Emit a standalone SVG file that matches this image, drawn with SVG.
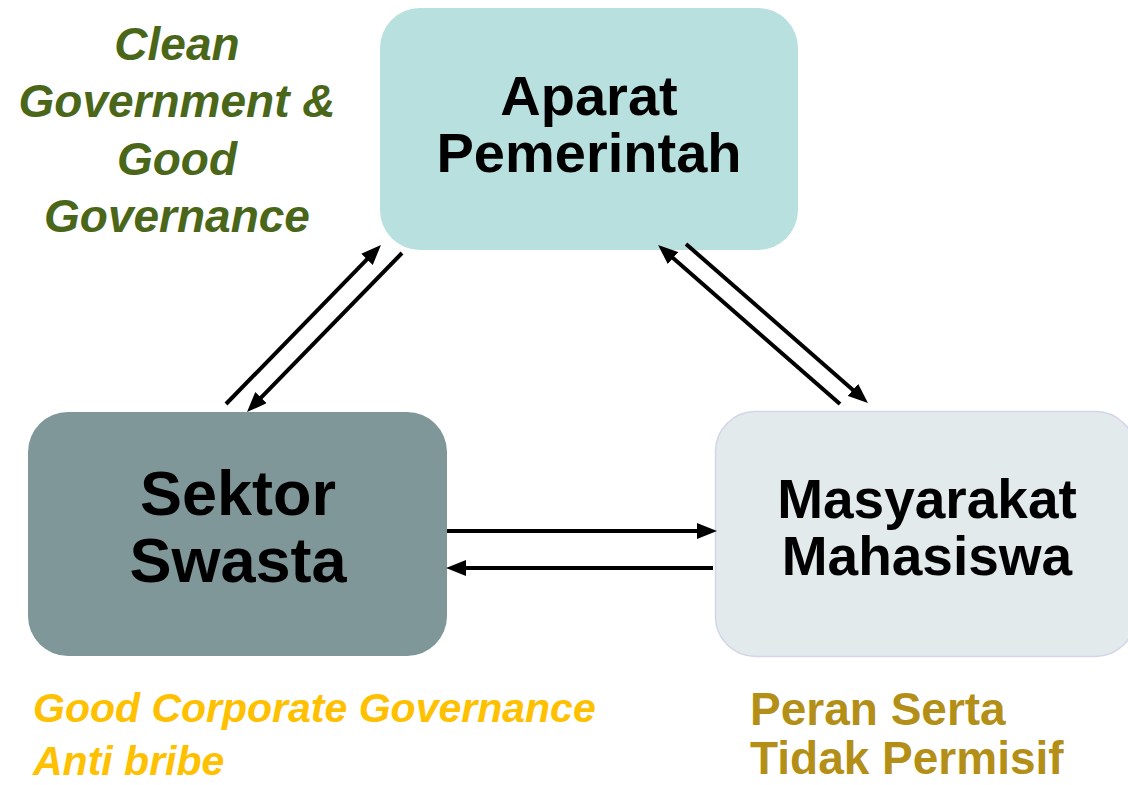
<svg xmlns="http://www.w3.org/2000/svg" width="1128" height="785" viewBox="0 0 1128 785">
<style>
.box-label{font-family:"Liberation Sans",Arial,sans-serif;font-weight:bold;fill:#000;text-anchor:middle}
.conn{stroke:#000;stroke-width:4;fill:none;marker-end:url(#ah)}
.green{font-family:"Liberation Sans",Arial,sans-serif;font-weight:bold;font-style:italic;fill:#4a6619;text-anchor:middle;font-size:46px}
.orange{font-family:"Liberation Sans",Arial,sans-serif;font-weight:bold;font-style:italic;fill:#ffc000;font-size:41px}
.gold{font-family:"Liberation Sans",Arial,sans-serif;font-weight:bold;fill:#b38f17;font-size:46px}
</style>
<defs>
<marker id="ah" viewBox="0 0 20 16" refX="2" refY="8" markerWidth="20" markerHeight="16" markerUnits="userSpaceOnUse" orient="auto">
<path d="M0,0 L20,8 L0,16 z" fill="#000"/>
</marker>
</defs>
<rect width="1128" height="785" fill="#fff"/>
<g id="aparat">
<rect x="380" y="8" width="418" height="242" rx="40" fill="#b8e0df"/>
<text class="box-label" x="589" y="115" font-size="56">Aparat</text>
<text class="box-label" x="589" y="172" font-size="56">Pemerintah</text>
</g>
<g id="sektor">
<rect x="28" y="412" width="419" height="244" rx="40" fill="#7f9799"/>
<text class="box-label" x="238" y="515" font-size="63">Sektor</text>
<text class="box-label" x="238" y="582" font-size="63">Swasta</text>
</g>
<g id="masyarakat">
<rect x="715.5" y="411.5" width="420" height="245" rx="40" fill="#e3eaec" stroke="#d4d4ea" stroke-width="1.5"/>
<text class="box-label" x="927" y="518" font-size="55">Masyarakat</text>
<text class="box-label" x="927" y="575" font-size="55">Mahasiswa</text>
</g>
<g id="connectors">
<line class="conn" x1="226" y1="404" x2="368.4" y2="257.9"/>
<line class="conn" x1="402" y1="253" x2="259.6" y2="399.1"/>
<line class="conn" x1="840" y1="404" x2="671.6" y2="256.8"/>
<line class="conn" x1="686" y1="244" x2="854.4" y2="391.2"/>
<line class="conn" x1="447" y1="531" x2="699" y2="531"/>
<line class="conn" x1="713" y1="568" x2="464" y2="568"/>
</g>
<g id="clean-government-label">
<text class="green" x="177" y="60">Clean</text>
<text class="green" x="177" y="117">Government &amp;</text>
<text class="green" x="177" y="175">Good</text>
<text class="green" x="177" y="232">Governance</text>
</g>
<g id="gcg-label">
<text class="orange" x="33" y="722">Good Corporate Governance</text>
<text class="orange" x="33" y="775">Anti bribe</text>
</g>
<g id="peran-label">
<text class="gold" x="750" y="725">Peran Serta</text>
<text class="gold" x="750" y="774">Tidak Permisif</text>
</g>
</svg>
